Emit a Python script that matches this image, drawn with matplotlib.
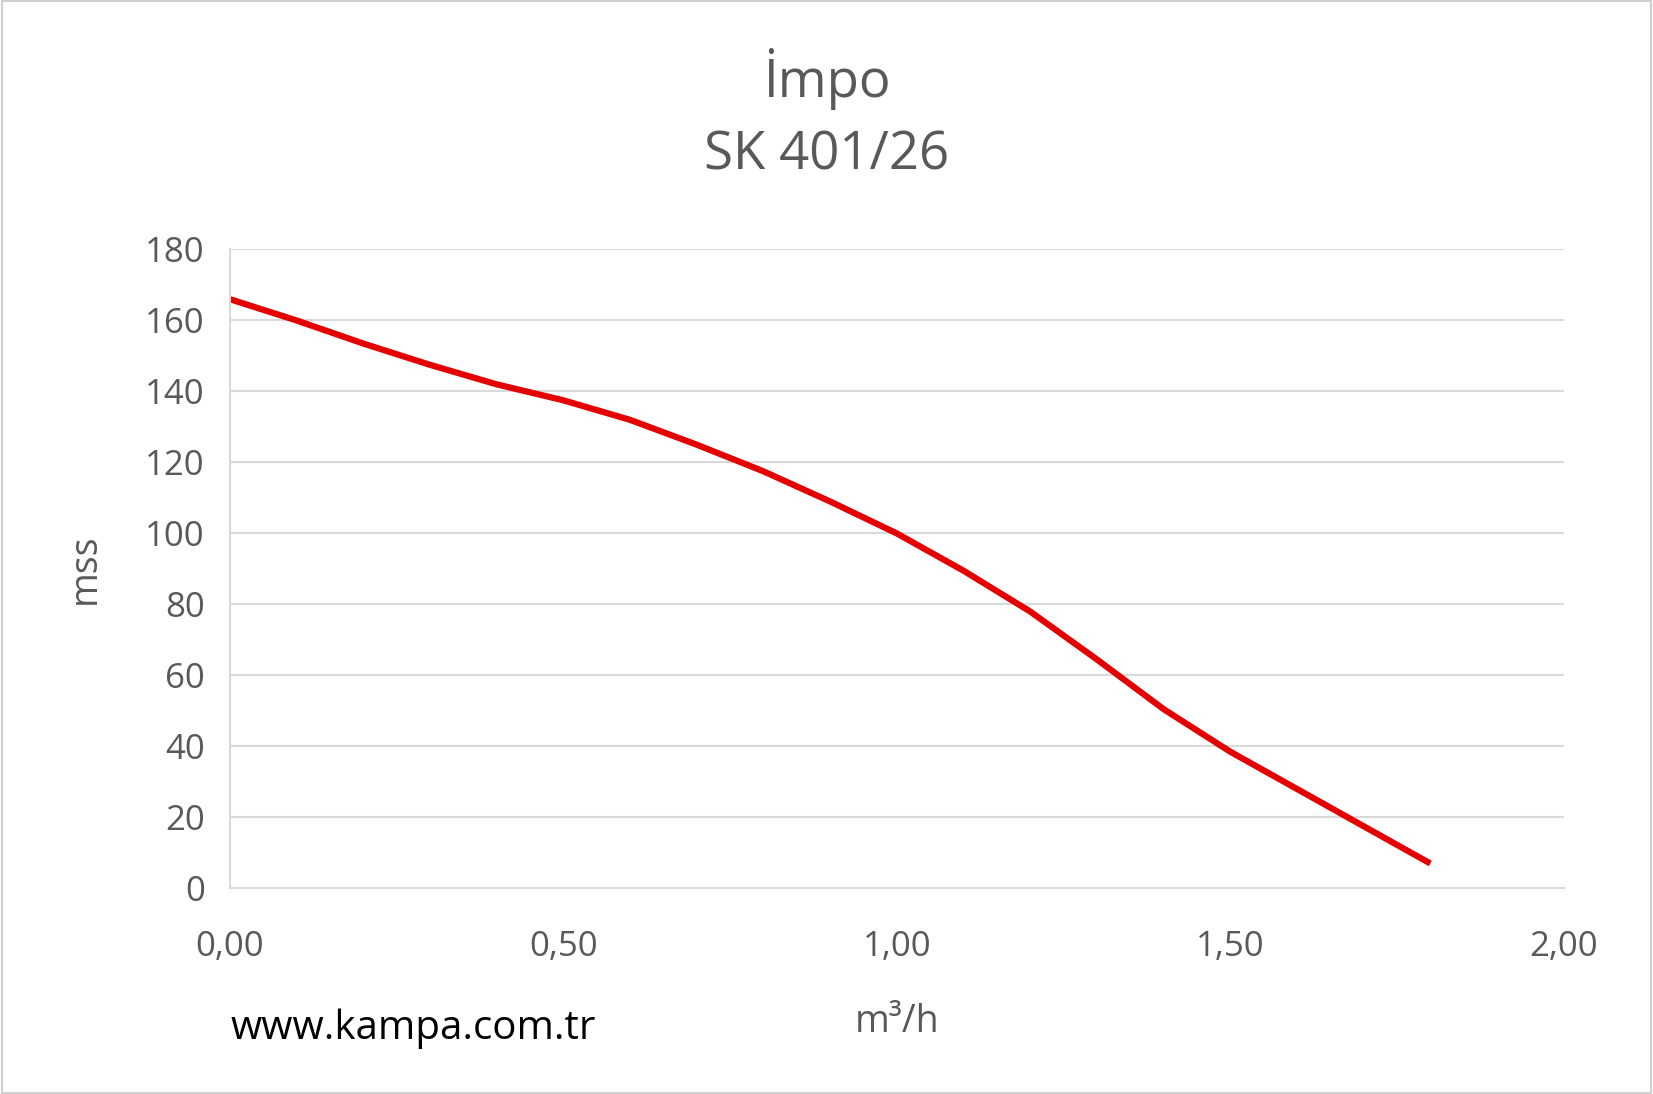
import matplotlib
matplotlib.use("Agg")
import matplotlib.pyplot as plt
from matplotlib.patches import Rectangle

flow = [0.0, 0.1, 0.2, 0.3, 0.4, 0.5, 0.6, 0.7, 0.8, 0.9, 1.0, 1.1, 1.2, 1.3, 1.4, 1.5, 1.6, 1.7, 1.8]
head = [166, 160, 153.5, 147.5, 142, 137.5, 132, 125, 117.5, 109, 100, 89.5, 78, 64.5, 50.5, 38.5, 28, 17.5, 7]
xticks = [0.0, 0.5, 1.0, 1.5, 2.0]
xticklabels = ["0,00", "0,50", "1,00", "1,50", "2,00"]
yticks = [0, 20, 40, 60, 80, 100, 120, 140, 160, 180]

plt.rcParams["font.family"] = "Open Sans"
gray = "#595959"
fig = plt.figure(figsize=(16.53, 10.94), dpi=100)
fig.patches.append(Rectangle((0.001, 0.001), 0.998, 0.998, transform=fig.transFigure,
                             fill=False, edgecolor="#d0d0d0", linewidth=1.5))
ax = fig.add_axes([0.139, 0.188, 0.807, 0.584])
ax.plot(flow, head, color="#e40000", linewidth=4.5, solid_capstyle="butt")
ax.set_xlim(0, 2)
ax.set_ylim(0, 180)
ax.set_xticks(xticks)
ax.set_xticklabels(xticklabels)
ax.set_yticks(yticks)
ax.grid(axis="y", color="#d9d9d9", linewidth=1.5)
ax.set_axisbelow(True)
for s in ["top", "right"]:
    ax.spines[s].set_visible(False)
ax.spines["left"].set_color("#d9d9d9")
ax.spines["bottom"].set_color("#d9d9d9")
ax.spines["left"].set_linewidth(1.5)
ax.spines["bottom"].set_linewidth(1.5)
ax.tick_params(axis="x", length=0, labelsize=25, colors=gray, pad=30)
ax.tick_params(axis="y", length=0, labelsize=25, colors=gray, pad=18)
ax.set_xlabel("m³/h", fontsize=27, color=gray, labelpad=28)
ax.set_ylabel("mss", fontsize=27, color=gray, labelpad=30)
fig.text(0.5, 0.928, "İmpo", ha="center", va="center", fontsize=38, color=gray)
fig.text(0.5, 0.858, "SK 401/26", ha="center", va="center", fontsize=38, color=gray)
fig.text(0.25, 0.06, "www.kampa.com.tr", ha="center", va="center", fontsize=29, color="black")
fig.savefig("out.png", dpi=100)
